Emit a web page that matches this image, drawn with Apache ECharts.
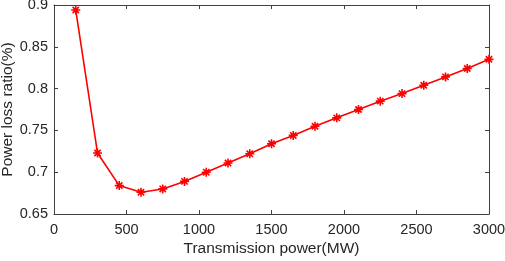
<!DOCTYPE html>
<html lang="en">
<head>
  <meta charset="UTF-8">
  <title>Power loss ratio</title>
  <script src="https://cdn.jsdelivr.net/npm/echarts@6.0.0/dist/echarts.min.js"></script>
  <style>
    html, body { margin: 0; padding: 0; background: #fff; }
  </style>
</head>
<body>
<div id="main" style="width: 505px;height:261px;"></div>
<script type="text/javascript">
  // transmission power (MW)
  var power = [150, 300, 450, 600, 750, 900, 1050, 1200, 1350, 1500,
    1650, 1800, 1950, 2100, 2250, 2400, 2550, 2700, 2850, 3000];
  // power loss ratio (%)
  var lossRatio = [0.894, 0.723, 0.684, 0.676, 0.680, 0.689, 0.700, 0.711, 0.722, 0.734,
    0.744, 0.755, 0.765, 0.775, 0.785, 0.794, 0.804, 0.814, 0.824, 0.835];

  var myChart = echarts.init(document.getElementById('main'));

  var seriesData = power.map(function (p, i) { return [p, lossRatio[i]]; });

  var axisColor = '#404040';
  var fontFam = 'Liberation Sans, Arial, sans-serif';
  var labelStyle = { color: '#262626', fontSize: 14.5, fontFamily: fontFam };
  // asterisk marker (+ and x)
  var star = 'path://M5,0L5,10M0,5L10,5M1.5,1.5L8.5,8.5M1.5,8.5L8.5,1.5';

  function xAx(pos, show) {
    return {
      type: 'value', position: pos, min: 0, max: 3000, interval: 500,
      name: show ? 'Transmission power(MW)' : '',
      nameLocation: 'middle', nameGap: 27, nameMoveOverlap: false,
      nameTextStyle: { color: '#262626', fontSize: 15.5, fontFamily: fontFam },
      axisLine: { show: true, onZero: false, lineStyle: { color: axisColor, width: 1 } },
      axisTick: { show: true, inside: true, length: 4, lineStyle: { color: axisColor } },
      axisLabel: Object.assign({ show: show, margin: 8, formatter: function (v) { return String(v); } }, labelStyle),
      splitLine: { show: false }
    };
  }
  function yAx(pos, show) {
    return {
      type: 'value', position: pos, min: 0.65, max: 0.9, interval: 0.05,
      name: show ? 'Power loss ratio(%)' : '',
      nameLocation: 'middle', nameGap: 38, nameMoveOverlap: false,
      nameTextStyle: { color: '#262626', fontSize: 15.5, fontFamily: fontFam },
      axisLine: { show: true, onZero: false, lineStyle: { color: axisColor, width: 1 } },
      axisTick: { show: true, inside: true, length: 4, lineStyle: { color: axisColor } },
      axisLabel: Object.assign({ show: show, margin: 6, formatter: function (v) {
        return String(Math.round(v * 100) / 100);
      } }, labelStyle),
      splitLine: { show: false }
    };
  }

  myChart.setOption({
    backgroundColor: '#fff',
    animation: false,
    grid: { left: 54, right: 16, top: 5, bottom: 47, outerBoundsMode: 'none' },
    xAxis: [xAx('bottom', true), xAx('top', false)],
    yAxis: [yAx('left', true), yAx('right', false)],
    series: [
      {
        type: 'line',
        data: seriesData,
        symbol: star,
        symbolSize: 9,
        showAllSymbol: true,
        lineStyle: { color: '#ff0000', width: 1.6 },
        itemStyle: { color: '#ff0000', borderColor: '#ff0000', borderWidth: 1.6 }
      }
    ]
  });
</script>
</body>
</html>
